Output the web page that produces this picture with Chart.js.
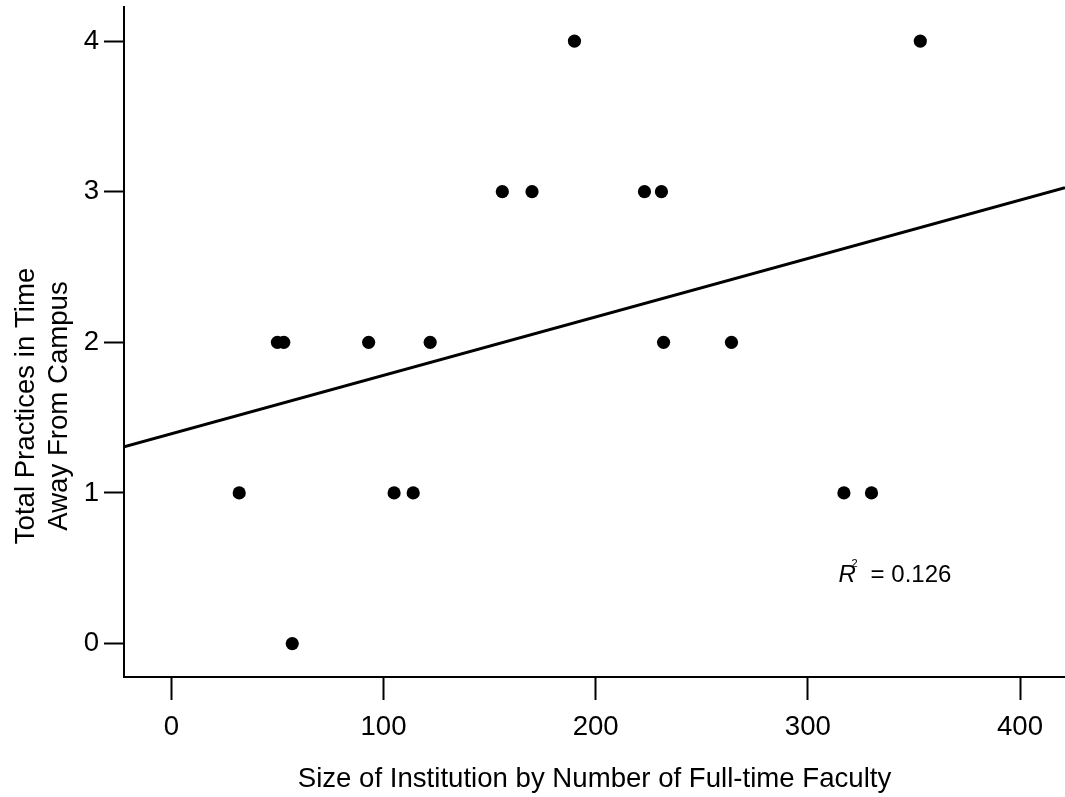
<!DOCTYPE html>
<html>
<head>
<meta charset="utf-8">
<title>Time Away From Campus vs Institution Size</title>
<script src="https://cdn.jsdelivr.net/npm/chart.js@4.4.1/dist/chart.umd.min.js"></script>
<style>
  html, body { margin: 0; padding: 0; background: #fff; overflow: hidden; }
  canvas { display: block; }
</style>
</head>
<body>
<canvas id="chart" width="1065" height="797"></canvas>
<script>
// observed institutions
const facultySize = [32, 50, 53, 57, 93, 105, 114, 122, 156, 170, 190, 223, 231, 232, 264, 317, 330, 353];
const totalPractices = [1, 2, 2, 0, 2, 1, 1, 2, 3, 3, 4, 3, 3, 2, 2, 1, 1, 4];

// fitted regression line, end points at the axis limits
const fitX = [-22.3, 421.2];
const fitY = [1.306, 3.027];

const xTicks = [0, 100, 200, 300, 400];
const yTicks = [0, 1, 2, 3, 4];
const rSquared = '0.126';
const xTitle = 'Size of Institution by Number of Full-time Faculty';
const yTitle = ['Total Practices in Time', 'Away From Campus'];

const FONT = "'Liberation Sans', Arial, Helvetica, sans-serif";
const LABEL_SIZE = 27.6;
Chart.defaults.font.family = FONT;
Chart.defaults.color = '#000';

// y title sits a bit below the middle of the axis, so draw it by hand
const yTitleLabel = {
    id: 'yTitleLabel',
    afterDraw(chart) {
        const { ctx } = chart;
        ctx.save();
        ctx.fillStyle = '#000';
        ctx.font = LABEL_SIZE + 'px ' + FONT;
        ctx.textAlign = 'center';
        ctx.textBaseline = 'middle';
        ctx.translate(26.5, 406);
        ctx.rotate(-Math.PI / 2);
        yTitle.forEach((line, i) => ctx.fillText(line, 0, i * 33));
        ctx.restore();
    }
};

// R² note in the lower right
const r2Label = {
    id: 'r2Label',
    afterDatasetsDraw(chart) {
        const { ctx, scales: { x, y } } = chart;
        const px = x.getPixelForValue(314.5);
        const py = y.getPixelForValue(0.407);
        ctx.save();
        ctx.fillStyle = '#000';
        ctx.textBaseline = 'alphabetic';
        ctx.textAlign = 'left';
        ctx.font = 'italic 24px ' + FONT;
        ctx.fillText('R', px, py);
        ctx.font = '11px ' + FONT;
        ctx.fillText('2', px + 13, py - 15);
        ctx.font = '24px ' + FONT;
        ctx.fillText('= ' + rSquared, px + 32, py);
        ctx.restore();
    }
};

new Chart(document.getElementById('chart'), {
    type: 'scatter',
    data: {
        datasets: [{
            data: facultySize.map((v, i) => ({ x: v, y: totalPractices[i] })),
            backgroundColor: '#000',
            borderWidth: 0,
            pointRadius: 6.6,
            order: 1,
        }, {
            data: fitX.map((v, i) => ({ x: v, y: fitY[i] })),
            showLine: true,
            borderColor: '#000',
            borderWidth: 3,
            pointRadius: 0,
            fill: false,
            order: 2,
        }],
    },
    options: {
        responsive: false,
        animation: false,
        // the plot runs right up to the canvas edge
        layout: { autoPadding: false, padding: { top: 7, right: 0, bottom: 0, left: 0 } },
        plugins: {
            legend: { display: false },
            tooltip: { enabled: false },
        },
        scales: {
            x: {
                type: 'linear',
                min: -22.3,
                max: 421.2,
                afterBuildTicks: s => { s.ticks = xTicks.map(v => ({ value: v })); },
                afterFit: s => {
                    s.height = 120;
                    s.paddingLeft = 0;
                    s.paddingRight = 0;
                },
                grid: { drawOnChartArea: false, tickLength: 23, tickWidth: 2, tickColor: '#000' },
                border: { display: true, color: '#000', width: 2 },
                ticks: { color: '#000', font: { size: LABEL_SIZE }, padding: 11, autoSkip: false, maxRotation: 0 },
                title: {
                    display: true,
                    text: xTitle,
                    color: '#000',
                    font: { size: LABEL_SIZE },
                    padding: { top: 0, bottom: 1 },
                },
            },
            y: {
                type: 'linear',
                min: -0.222,
                max: 4.226,
                afterBuildTicks: s => { s.ticks = yTicks.map(v => ({ value: v })); },
                afterFit: s => {
                    s.width = 124;
                    s.paddingTop = 0;
                    s.paddingBottom = 0;
                },
                grid: { drawOnChartArea: false, tickLength: 20, tickWidth: 2, tickColor: '#000' },
                border: { display: true, color: '#000', width: 2 },
                ticks: { color: '#000', font: { size: LABEL_SIZE }, padding: 5, autoSkip: false },
                title: { display: false },
            },
        },
    },
    plugins: [r2Label, yTitleLabel],
});
</script>
</body>
</html>
